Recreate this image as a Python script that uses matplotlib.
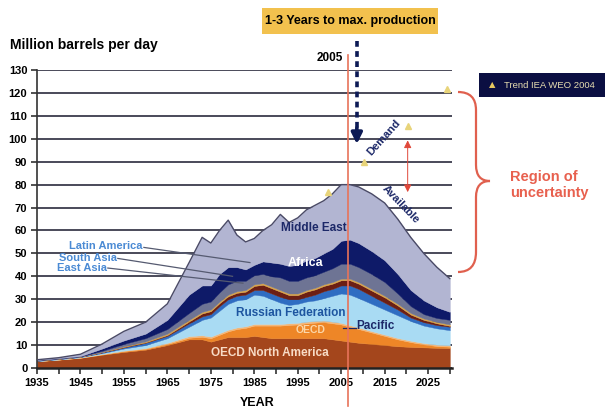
import matplotlib
matplotlib.use("Agg")
import matplotlib.pyplot as plt
from matplotlib import font_manager
from matplotlib.patches import Rectangle, PathPatch
from matplotlib.path import Path

# pick a narrow bold face if there is one
names = {f.name for f in font_manager.fontManager.ttflist}
narrow = "Liberation Sans Narrow" if "Liberation Sans Narrow" in names else "Liberation Sans"
plt.rcParams["font.family"] = [narrow, "DejaVu Sans"]
plt.rcParams["font.weight"] = "bold"

years = [1935, 1940, 1945, 1950, 1955, 1960, 1965, 1970, 1973, 1975, 1977, 1979, 1981, 1983,
         1985, 1987, 1989, 1991, 1993, 1995, 1997, 1999, 2001, 2003, 2005, 2007, 2009, 2012,
         2015, 2018, 2021, 2024, 2027, 2030]

# cumulative tops of each region (million barrels per day)
na_top = [2.9, 3.6, 4.4, 5.8, 7.0, 8.0, 10.0, 12.5, 12.5, 11.5, 12.5, 13.5, 13.5, 13.5,
          14.0, 13.5, 13.0, 13.0, 13.0, 13.0, 13.0, 13.0, 13.0, 12.5, 12.0, 11.5, 11.0, 10.5,
          10.0, 9.5, 9.2, 9.0, 8.8, 8.7]
eu_top = [3.0, 3.7, 4.5, 6.0, 7.4, 8.4, 10.5, 13.2, 13.6, 13.0, 14.5, 16.0, 17.0, 17.5,
          18.5, 18.5, 18.5, 18.5, 18.8, 19.0, 19.5, 19.8, 20.0, 19.5, 19.0, 18.0, 17.0, 15.5,
          14.0, 12.5, 11.3, 10.3, 9.6, 9.3]
pac_top = [3.0, 3.7, 4.6, 6.1, 7.6, 8.7, 11.0, 13.9, 14.3, 13.7, 15.2, 16.7, 17.7, 18.2,
           19.2, 19.2, 19.2, 19.2, 19.5, 19.7, 20.2, 20.5, 20.7, 20.2, 19.7, 18.7, 17.7, 16.1,
           14.6, 13.1, 11.9, 10.9, 10.2, 9.9]
rus_top = [3.1, 3.9, 4.8, 6.5, 8.5, 10.0, 13.0, 18.0, 21.0, 22.0, 25.0, 28.0, 29.5, 30.0,
           32.0, 31.5, 30.0, 28.5, 27.5, 28.0, 29.0, 29.5, 30.5, 31.5, 32.5, 32.0, 30.5, 28.0,
           25.5, 23.0, 20.5, 18.5, 17.3, 16.5]
fsu_top = [3.2, 4.0, 4.9, 6.8, 9.0, 11.0, 14.0, 19.5, 22.5, 23.5, 27.0, 30.0, 31.5, 32.0,
           34.0, 34.0, 32.5, 31.0, 30.0, 30.0, 31.0, 32.0, 33.5, 34.5, 36.0, 36.0, 34.5, 31.5,
           28.5, 25.5, 22.0, 20.0, 18.7, 18.0]
china_top = [3.25, 4.05, 4.95, 6.9, 9.2, 11.2, 14.4, 20.3, 23.8, 24.8, 28.3, 31.3, 32.8, 33.3,
             35.8, 36.3, 34.8, 33.3, 31.8, 31.8, 33.3, 34.3, 35.8, 36.8, 38.3, 38.3, 36.8, 33.8,
             30.8, 27.3, 23.3, 21.0, 19.5, 18.4]
east_asia_top = [3.3, 4.1, 5.0, 7.0, 9.5, 11.6, 15.0, 21.0, 24.5, 25.5, 29.0, 32.0, 33.5, 34.0,
                 36.5, 37.0, 35.5, 34.0, 32.5, 32.5, 34.0, 35.0, 36.5, 37.5, 39.0, 39.0, 37.5, 34.5,
                 31.5, 28.0, 24.0, 21.6, 20.1, 19.0]
south_asia_top = [3.4, 4.2, 5.1, 7.5, 10.5, 13.0, 17.0, 24.0, 28.0, 29.0, 33.0, 36.5, 38.0, 38.0,
                  40.5, 41.0, 40.0, 39.5, 38.0, 38.0, 39.5, 40.5, 42.0, 43.5, 45.5, 45.5, 44.0, 41.0,
                  37.5, 32.5, 27.0, 23.5, 21.8, 21.0]
africa_top = [3.5, 4.3, 5.2, 8.5, 12.0, 15.0, 21.0, 32.0, 36.0, 36.0, 41.0, 44.0, 44.0, 43.0,
              45.0, 46.5, 46.0, 45.5, 44.5, 45.0, 47.0, 48.0, 50.0, 52.0, 55.5, 56.0, 54.5, 51.0,
              47.0, 41.0, 34.0, 29.5, 26.5, 24.5]
total = [3.6, 4.5, 6.0, 10.5, 16.0, 20.0, 28.0, 46.0, 57.0, 54.5, 60.0, 64.5, 58.0, 55.0,
         56.5, 60.0, 62.5, 67.0, 63.5, 65.5, 69.0, 71.0, 73.0, 76.0, 80.0, 80.0, 79.0, 76.0,
         72.0, 65.0, 57.0, 50.0, 44.0, 39.0]

layer_colors = ["#a4461c", "#ee8627", "#f3b77a", "#a9dbf3", "#2f6dc2", "#6c1f14",
                "#d9a54a", "#6e7494", "#0e1a68", "#b2b5d2"]

trend_years = [2001.9, 2010.2, 2020.3, 2029.4]
trend_vals = [76.6, 89.8, 105.7, 121.7]

W, H = 606, 412


def fx(x, y):
    # pixel position -> figure fraction
    return x / W, 1 - y / H


fig = plt.figure(figsize=(W / 100, H / 100), dpi=100)
ax = fig.add_axes([37 / W, 44 / H, 415 / W, 298 / H])
ax.set_xlim(1935, 2030.5)
ax.set_ylim(0, 130)

bounds = [[0] * len(years), na_top, eu_top, pac_top, rus_top, fsu_top, china_top,
          east_asia_top, south_asia_top, africa_top, total]
for i in range(len(bounds) - 1):
    ax.fill_between(years, bounds[i], bounds[i + 1], color=layer_colors[i], lw=0.3,
                    edgecolor=layer_colors[i], zorder=2)
ax.plot(years, total, color="#4a4a66", lw=1.0, zorder=3)

ax.set_yticks(range(0, 131, 10))
ax.yaxis.grid(True, color="#3c3c4c", lw=1.3)
ax.set_axisbelow(True)
ax.set_xticks(range(1935, 2030, 10))
ax.set_xticks(range(1940, 2031, 10), minor=True)
ax.tick_params(axis="both", labelsize=8, length=4, width=1.2, color="#333333", pad=3)
ax.tick_params(axis="x", which="minor", length=4, width=1.2, color="#333333")
for lab in ax.get_xticklabels() + ax.get_yticklabels():
    lab.set_fontweight("bold")
for s in ["top", "right"]:
    ax.spines[s].set_visible(False)
ax.spines["left"].set_color("#333333")
ax.spines["left"].set_linewidth(1.2)
ax.spines["bottom"].set_color("#222222")
ax.spines["bottom"].set_linewidth(1.8)

# region labels
ax.text(1998.6, 61, "Middle East", color="#1c2868", fontsize=8.5, ha="center", va="center", zorder=5)
ax.text(1996.8, 45.8, "Africa", color="white", fontsize=9, ha="center", va="center", zorder=5)
ax.text(1993.3, 24, "Russian Federation", color="#1d55a0", fontsize=8.5, ha="center", va="center", zorder=5)
ax.text(1997.9, 16.4, "OECD", color="#fbd6a8", fontsize=7.5, ha="center", va="center", zorder=5)
ax.text(1988.7, 6.5, "OECD North America", color="#f8dcc6", fontsize=8.5, ha="center", va="center", zorder=5)
ax.plot([2005.5, 2008.3], [17.6, 17.6], color="#1c2868", lw=0.9, zorder=5)
ax.text(2008.5, 18.3, "Pacific", color="#1c2868", fontsize=8.5, ha="left", va="center", zorder=5)

blue_lab = "#4a8ad4"
ax.text(1959.2, 53.3, "Latin America", color=blue_lab, fontsize=8, ha="right", va="center", zorder=5)
ax.plot([1959.6, 1984.0], [52.6, 46.0], color="#555a70", lw=0.9, zorder=4)
ax.text(1953.4, 48.0, "South Asia", color=blue_lab, fontsize=8, ha="right", va="center", zorder=5)
ax.plot([1953.6, 1980.0], [47.8, 40.0], color="#555a70", lw=0.9, zorder=4)
ax.text(1951.1, 43.7, "East Asia", color=blue_lab, fontsize=8, ha="right", va="center", zorder=5)
ax.plot([1951.3, 1982.4], [43.6, 37.0], color="#555a70", lw=0.9, zorder=4)

# IEA trend markers and demand / available arrows
ax.plot(trend_years, trend_vals, "^", color="#e8d47a", ms=5, clip_on=False, zorder=6)
ax.annotate("", xy=(2020.3, 100.5), xytext=(2020.3, 75.5),
            arrowprops=dict(arrowstyle="<|-|>", color="#e0483a", lw=0.7, mutation_scale=11),
            zorder=6)
ax.text(2014.7, 100.7, "Demand", color="#1c2868", fontsize=8, rotation=48,
        ha="center", va="center", zorder=6)
ax.text(2018.6, 71.2, "Available", color="#1c2868", fontsize=8, rotation=-46,
        ha="center", va="center", zorder=6)

# 2005 marker line and the dashed arrow
ax.plot([2006.6, 2006.6], [136.7, -16.5], color="#e8735a", lw=1.2, clip_on=False, zorder=6)
ax.plot([2008.6, 2008.6], [142.5, 104], color="#0c1a55", lw=2.6, ls=(0, (1.6, 1.2)),
        clip_on=False, zorder=7)
ax.annotate("", xy=(2008.6, 96.5), xytext=(2008.6, 106),
            arrowprops=dict(arrowstyle="-|>", color="#0c1a55", lw=2.6, mutation_scale=16),
            annotation_clip=False, zorder=7)

# figure-level text
fig.text(*fx(10, 45), "Million barrels per day", fontsize=10, ha="left", va="center")
fig.text(*fx(343, 58), "2005", fontsize=8.5, ha="right", va="center")
fig.text(*fx(257, 403), "YEAR", fontsize=9, ha="center", va="center")

fig.patches.append(Rectangle(fx(262, 34), 176 / W, 26 / H, transform=fig.transFigure,
                             facecolor="#f2c14e", edgecolor="none", zorder=1))
fig.text(*fx(350, 21), "1-3 Years to max. production", fontsize=9, ha="center", va="center")

fig.patches.append(Rectangle(fx(479, 97), 126 / W, 24 / H, transform=fig.transFigure,
                             facecolor="#0b0f42", edgecolor="none", zorder=1))
fig.text(*fx(492, 85), "\u25b2", fontsize=6, color="#e8c860", ha="center", va="center",
         family="DejaVu Sans")
fig.text(*fx(504, 85), "Trend IEA WEO 2004", fontsize=6.8, color="#e6dcb0", ha="left",
         va="center", fontweight="normal")

fig.text(*fx(510, 185), "Region of\nuncertainty", fontsize=10.5, color="#e8604e",
         ha="left", va="center", linespacing=1.1)

# curly brace
pts = [(458, 92), (476, 92), (476, 110), (476, 165), (476, 181), (490, 181), (476, 181),
       (476, 197), (476, 252), (476, 272), (458, 272)]
codes = [Path.MOVETO, Path.CURVE3, Path.CURVE3, Path.LINETO, Path.CURVE3, Path.CURVE3,
         Path.CURVE3, Path.CURVE3, Path.LINETO, Path.CURVE3, Path.CURVE3]
brace = Path([fx(x, y) for x, y in pts], codes)
fig.patches.append(PathPatch(brace, transform=fig.transFigure, facecolor="none",
                             edgecolor="#e0604e", lw=1.6))

fig.savefig("out.png", dpi=100, facecolor="white")
